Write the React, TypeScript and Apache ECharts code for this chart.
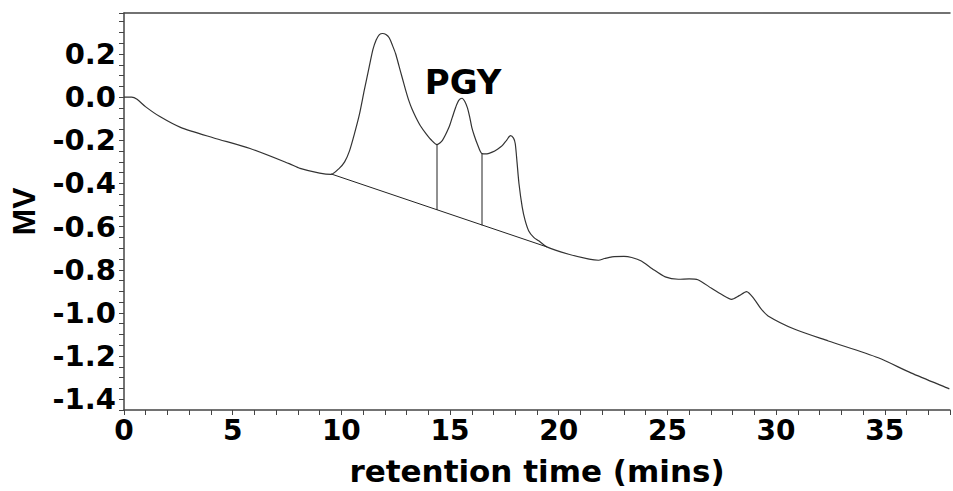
import React, { useEffect, useRef } from "react";
import * as echarts from "echarts";

// retention time (mins) and signal (MV) of the chromatogram trace
const traceTime: number[] = [
  0, 0.35, 0.6, 1.0, 1.65, 2.6, 4.1, 5.8, 7.6, 8.1, 9.0, 9.53, 9.9, 10.15, 10.37, 10.6, 10.83, 11.05,
  11.28, 11.45, 11.6, 11.75, 11.9, 12.05, 12.2, 12.35, 12.5, 12.65, 12.8, 12.95, 13.1, 13.25, 13.43,
  13.65, 13.9, 14.15, 14.4, 14.65, 14.95, 15.1, 15.26, 15.4, 15.55, 15.68, 15.8, 15.9, 16.0, 16.12,
  16.25, 16.47, 16.7, 16.94, 17.2, 17.4, 17.6, 17.78, 17.92, 18.0, 18.08, 18.17, 18.32, 18.45, 18.62,
  18.85, 19.08, 19.45, 20.46, 21.4, 21.83, 22.1, 22.45, 23.0, 23.36, 23.8, 24.3, 24.9, 25.5, 26.0,
  26.4, 27.03, 27.5, 27.95, 28.3, 28.64, 29.0, 29.3, 29.63, 30.86, 32.4, 34.7, 36.2, 37.97, 38,
];
const traceSignal: number[] = [
  0, 0.0, -0.01, -0.045, -0.09, -0.14, -0.188, -0.238, -0.308, -0.33, -0.352, -0.358, -0.33, -0.3,
  -0.25, -0.17, -0.08, 0.03, 0.14, 0.22, 0.265, 0.29, 0.295, 0.29, 0.275, 0.24, 0.2, 0.145, 0.09,
  0.035, -0.015, -0.055, -0.094, -0.135, -0.17, -0.2, -0.22, -0.2, -0.14, -0.095, -0.047, -0.015,
  -0.005, -0.02, -0.05, -0.09, -0.14, -0.18, -0.216, -0.262, -0.263, -0.255, -0.24, -0.225, -0.2,
  -0.178, -0.19, -0.216, -0.3, -0.4, -0.51, -0.57, -0.62, -0.65, -0.666, -0.694, -0.728, -0.751,
  -0.756, -0.748, -0.74, -0.738, -0.743, -0.759, -0.795, -0.833, -0.844, -0.842, -0.846, -0.886,
  -0.915, -0.937, -0.92, -0.901, -0.937, -0.98, -1.014, -1.076, -1.13, -1.208, -1.278, -1.352, -1.353,
];

// integration baseline under the PGY peaks
const baselineStart: [number, number] = [9.53, -0.356];
const baselineEnd: [number, number] = [19.45, -0.694];
// peak separation drop lines: [time, top signal, bottom signal]
const dropLines: [number, number, number][] = [
  [14.4, -0.22, -0.523],
  [16.47, -0.262, -0.594],
];
// annotation
const peakLabel = "PGY";
const peakLabelPos: [number, number] = [15.6, 0.07];

const xMin = 0;
const xMax = 38;
const yMin = -1.45;
const yMax = 0.39;

const isMult = (v: number, step: number) => Math.abs(v / step - Math.round(v / step)) < 1e-6;

export default function App() {
  const ref = useRef<HTMLDivElement>(null);
  useEffect(() => {
    if (!ref.current) return;
    const chart = echarts.init(ref.current, undefined, { renderer: "svg" });
    const axisColor = "#444";
    const lineColor = "#333";
    const labelFont = "'DejaVu Sans', sans-serif";
    chart.setOption({
      animation: false,
      backgroundColor: "#fff",
      grid: { left: 124, right: 0, top: 13, bottom: 81 },
      xAxis: [
        {
          type: "value",
          position: "bottom",
          min: xMin,
          max: xMax,
          interval: 1,
          name: "retention time (mins)",
          nameLocation: "middle",
          nameGap: 45,
          nameTextStyle: { fontFamily: labelFont, fontWeight: "bold", fontSize: 31, color: "#000" },
          axisLine: { show: true, onZero: false, lineStyle: { color: axisColor, width: 1.5 } },
          axisTick: { show: true, length: 5, lineStyle: { color: axisColor, width: 1 } },
          axisLabel: {
            margin: 6,
            fontFamily: labelFont,
            fontWeight: "bold",
            fontSize: 28,
            color: "#000",
            formatter: (v: number) => (isMult(v, 5) ? String(Math.round(v)) : ""),
          },
          splitLine: { show: false },
        },
        {
          type: "value",
          position: "top",
          min: xMin,
          max: xMax,
          axisLine: { show: true, onZero: false, lineStyle: { color: axisColor, width: 1.5 } },
          axisTick: { show: false },
          axisLabel: { show: false },
          splitLine: { show: false },
        },
      ],
      yAxis: {
        type: "value",
        min: yMin,
        max: yMax,
        interval: 0.05,
        name: "MV",
        nameLocation: "middle",
        nameRotate: 90,
        nameGap: 84,
        nameTextStyle: { fontFamily: "'Liberation Sans', Arial, sans-serif", fontWeight: "bold", fontSize: 32, color: "#000" },
        axisLine: { show: true, onZero: false, lineStyle: { color: axisColor, width: 1.5 } },
        axisTick: { show: true, length: 5, lineStyle: { color: axisColor, width: 1 } },
        axisLabel: {
          margin: 8,
          fontFamily: labelFont,
          fontWeight: "bold",
          fontSize: 29,
          color: "#000",
          formatter: (v: number) => {
            if (v > 0.36) return "";
            if (!isMult(v, 0.2)) return "";
            if (Math.abs(v) < 1e-9) return "0.0";
            return v.toFixed(1);
          },
        },
        splitLine: { show: false },
      },
      series: [
        {
          type: "line",
          data: traceTime.map((t, i) => [t, traceSignal[i]]),
          showSymbol: false,
          symbol: "none",
          smooth: 0.25,
          lineStyle: { color: lineColor, width: 1.2 },
        },
        {
          type: "line",
          data: [baselineStart, baselineEnd],
          symbol: "none",
          lineStyle: { color: "#222", width: 1 },
        },
        ...dropLines.map((d) => ({
          type: "line",
          data: [
            [d[0], d[1]],
            [d[0], d[2]],
          ],
          symbol: "none",
          lineStyle: { color: "#222", width: 1 },
        })),
      ],
    });
    const p = chart.convertToPixel({ gridIndex: 0 }, peakLabelPos) as number[];
    chart.setOption({
      graphic: [
        {
          type: "text",
          x: p[0],
          y: p[1],
          style: {
            text: peakLabel,
            fill: "#000",
            font: "bold 34px 'DejaVu Sans', sans-serif",
            textAlign: "center",
            textVerticalAlign: "middle",
          },
        },
      ],
    });
    return () => chart.dispose();
  }, []);
  return (
    <div
      ref={ref}
      style={{ position: "fixed", left: 0, top: 0, width: 953, height: 491, background: "#fff" }}
    />
  );
}
